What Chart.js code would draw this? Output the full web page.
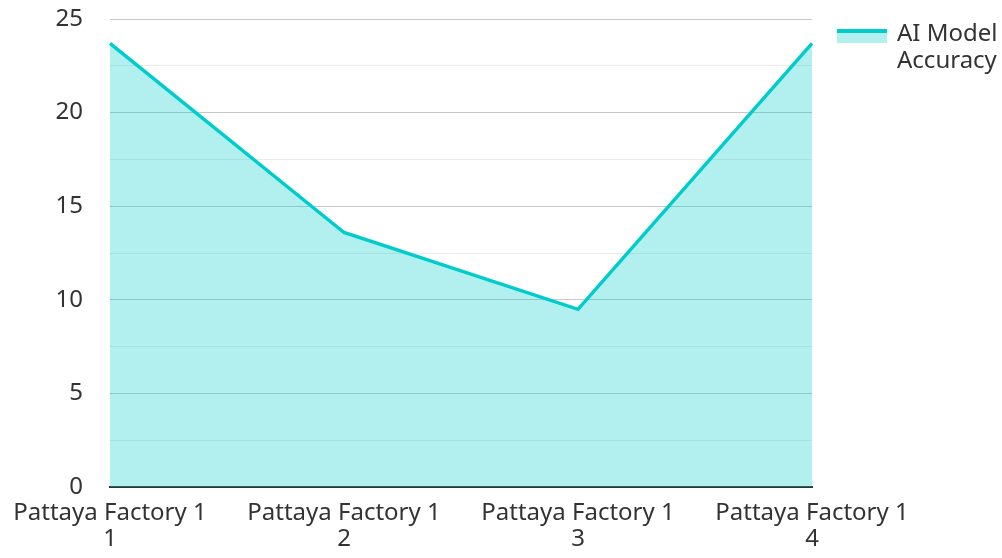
<!DOCTYPE html>
<html>
<head>
<meta charset="utf-8">
<script src="https://cdn.jsdelivr.net/npm/chart.js@4/dist/chart.umd.min.js"></script>
<style>
  body { margin: 0; background: #fff; }
  #wrap { position: relative; width: 1002px; height: 558px; }
  #legend {
    position: absolute; left: 837px; top: 18px;
    font-family: "Noto Sans", sans-serif; font-size: 24px; color: #333;
    display: flex; align-items: flex-start; line-height: 27px;
  }
  #legend .swatch {
    width: 50px; height: 10px; margin-top: 11px; margin-right: 10px;
    border-top: 4px solid #00cccc; background: rgba(0, 204, 204, 0.3);
  }
</style>
</head>
<body>
<div id="wrap">
  <canvas id="chart" width="1002" height="558"></canvas>
  <div id="legend"><div class="swatch"></div><div id="legendText"></div></div>
</div>
<script>
const categories = [
  ["Pattaya Factory 1", "1"],
  ["Pattaya Factory 1", "2"],
  ["Pattaya Factory 1", "3"],
  ["Pattaya Factory 1", "4"]
];
const seriesName = ["AI Model", "Accuracy"];
const accuracy = [23.7, 13.6, 9.5, 23.7];
const yTicks = [0, 5, 10, 15, 20, 25];

const lineColor = "#00cccc";
const fillColor = "rgba(0, 204, 204, 0.3)";
const textColor = "#333";

document.getElementById("legendText").innerHTML = seriesName.join("<br>");

const ctx = document.getElementById("chart").getContext("2d");
new Chart(ctx, {
  type: "line",
  data: {
    labels: categories,
    datasets: [
      {
        label: seriesName.join(" "),
        data: accuracy,
        borderColor: lineColor,
        backgroundColor: fillColor,
        borderWidth: 3.5,
        fill: "origin",
        pointRadius: 0,
        tension: 0,
      },
    ],
  },
  options: {
    responsive: false,
    devicePixelRatio: 1,
    animation: false,
    layout: {
      padding: { left: 12, right: 190, top: 19, bottom: 1 },
    },
    plugins: {
      legend: { display: false },
      tooltip: { enabled: false },
    },
    scales: {
      x: {
        offset: false,
        grid: { display: false },
        border: { display: true, color: "#333", width: 2 },
        ticks: {
          color: textColor,
          font: { family: "Noto Sans", size: 24, lineHeight: 1.12 },
          padding: 4,
          maxRotation: 0,
          autoSkip: false,
        },
      },
      y: {
        min: 0,
        max: 25,
        border: { display: false },
        grid: {
          drawTicks: false,
          color: (c) => (yTicks.includes(c.tick.value) ? "#c8c8c8" : "#ebebeb"),
        },
        ticks: {
          stepSize: 2.5,
          padding: 27,
          color: textColor,
          font: { family: "Noto Sans", size: 24 },
          callback: (v) => (yTicks.includes(v) ? v : ""),
        },
        afterFit: (s) => {
          s.width = 98;
          s.paddingTop = 0;
          s.paddingBottom = 0;
        },
      },
    },
  },
});
</script>
</body>
</html>
